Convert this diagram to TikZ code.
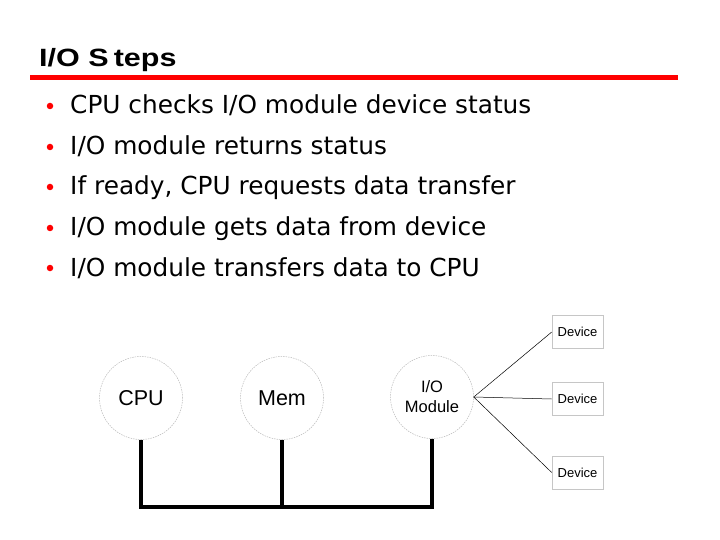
\documentclass[tikz,border=0pt]{standalone}
\usepackage{fontspec}
\setmainfont{DejaVu Sans}
\newfontfamily\arialfont{Liberation Sans}
\begin{document}
\begin{tikzpicture}[x=1pt,y=-1pt,
  bulletdot/.style={circle,fill=red,inner sep=0pt,minimum size=6.5pt},
  itemtext/.style={anchor=base west,inner sep=0pt,font=\fontsize{24.8}{28}\selectfont},
  unit/.style={circle,draw=gray!55,line width=0.5pt,dash pattern=on 1.5pt off 1pt,minimum size=83pt,inner sep=0pt,align=center},
  devbox/.style={rectangle,draw=gray!45,line width=0.6pt,minimum width=51pt,minimum height=33pt,inner sep=0pt,font=\arialfont\fontsize{13}{15}\selectfont},
  bus/.style={line width=3.8pt},
  link/.style={line width=0.5pt}]
\useasboundingbox (0,0) rectangle (720,540);
% title
\node[anchor=base west,inner sep=0pt] (title) at (39,67) {\scalebox{1.22}[1]{\arialfont\bfseries\fontsize{25}{27}\selectfont I/O S\,teps}};
\draw[red,line width=5pt] (30,77.5) -- (678,77.5);
% bullets
\node[bulletdot] (b1) at (50,106) {};
\node[itemtext] (t1) at (70,114) {CPU checks I/O module device status};
\node[bulletdot] (b2) at (50,147) {};
\node[itemtext] (t2) at (70,155) {I/O module returns status};
\node[bulletdot] (b3) at (50,187) {};
\node[itemtext] (t3) at (70,195) {If ready, CPU requests data transfer};
\node[bulletdot] (b4) at (50,228) {};
\node[itemtext] (t4) at (70,236) {I/O module gets data from device};
\node[bulletdot] (b5) at (50,268) {};
\node[itemtext] (t5) at (70,276) {I/O module transfers data to CPU};
% units
\node[unit,font=\arialfont\fontsize{21.5}{24}\selectfont] (cpu) at (141,398) {CPU};
\node[unit,font=\arialfont\fontsize{21.5}{24}\selectfont] (mem) at (282,398) {Mem};
\node[unit,font=\arialfont\fontsize{16.5}{20}\selectfont] (io) at (432,397) {I/O\\Module};
% devices
\node[devbox] (d1) at (577.5,332) {Device};
\node[devbox] (d2) at (577.5,399) {Device};
\node[devbox] (d3) at (577.5,472.5) {Device};
\draw[link] (io.east) -- (d1.west);
\draw[link] (io.east) -- (d2.west);
\draw[link] (io.east) -- (d3.west);
% bus
\coordinate (cb) at (141,507);
\coordinate (mb) at (282,507);
\coordinate (ib) at (432,507);
\draw[bus] (cpu.south) -- (cb);
\draw[bus] (mem.south) -- (mb);
\draw[bus] (io.south) -- (ib);
\draw[bus,line cap=rect] (cb) -- (ib);
\end{tikzpicture}
\end{document}
